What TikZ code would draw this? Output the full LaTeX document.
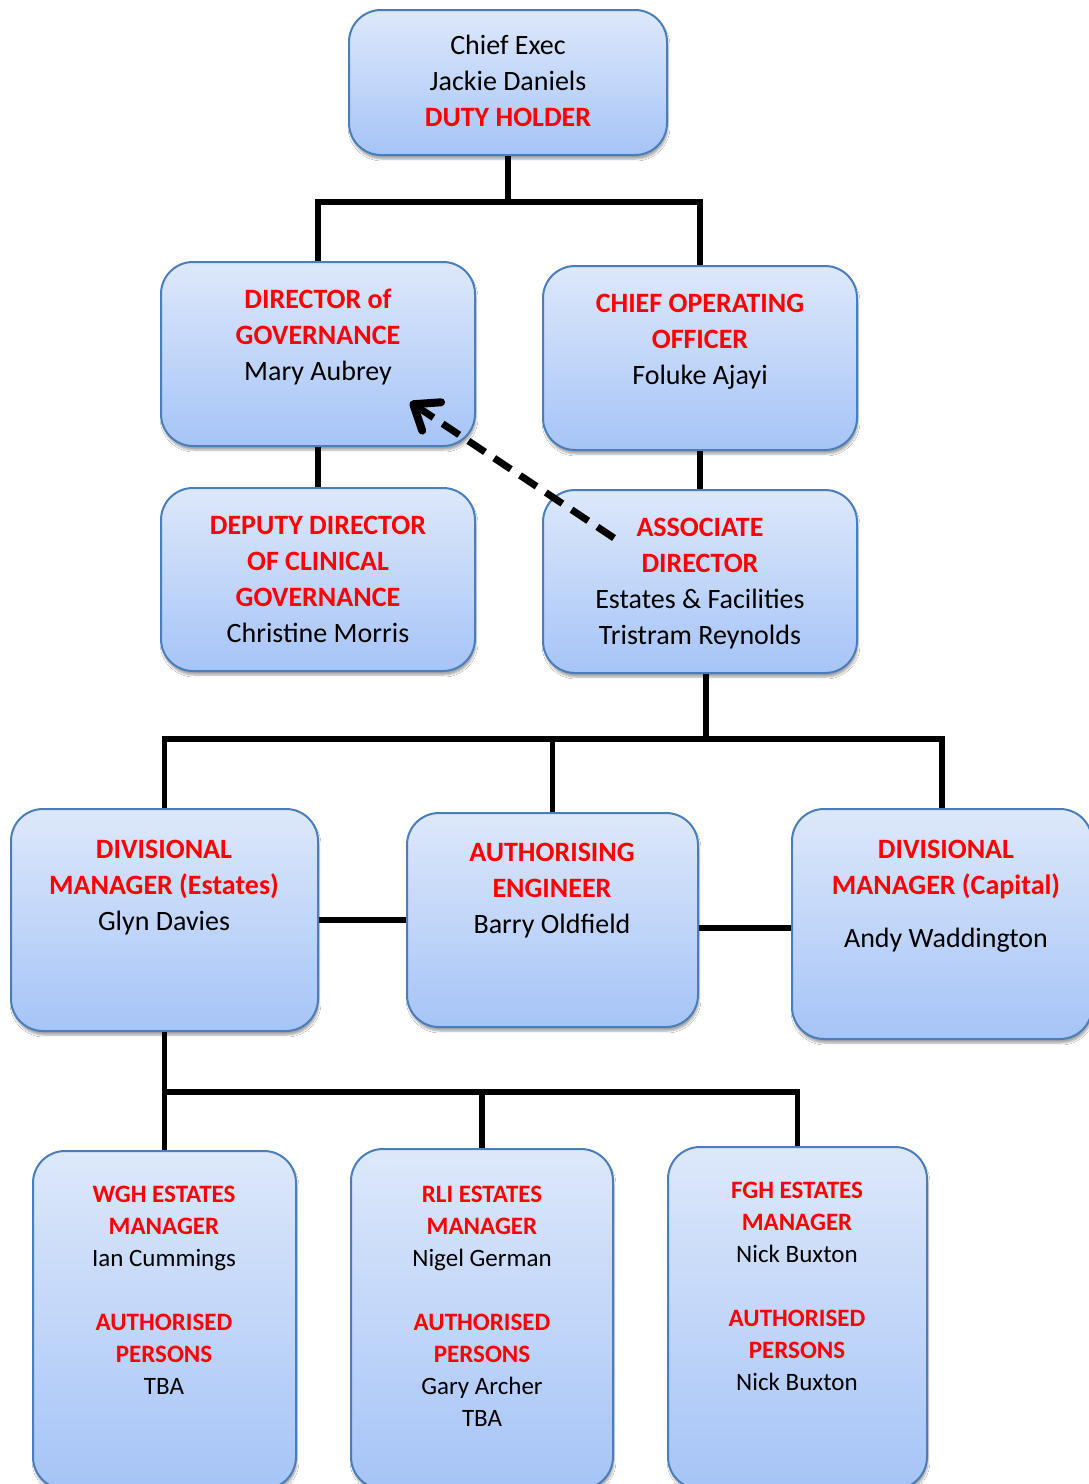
\documentclass[tikz,border=0pt]{standalone}
\usepackage{fontspec}
\setmainfont{Carlito}
\usetikzlibrary{arrows.meta,shadows.blur}
\definecolor{bd}{HTML}{4A7EBB}
\definecolor{gt}{HTML}{DDE8FA}
\definecolor{gb}{HTML}{A6C4F7}
\definecolor{rd}{HTML}{FF0000}
\newcommand{\rb}[1]{{\bfseries\color{rd}#1}}
\begin{document}
\begin{tikzpicture}[x=1pt,y=-1pt,
 box/.style={draw=bd, line width=2pt, rounded corners=32pt, top color=gt, bottom color=gb,
   blur shadow={shadow xshift=1pt, shadow yshift=-4pt, shadow opacity=35, shadow blur steps=6},
   inner sep=0pt},
 big/.style={font=\fontsize{28}{36}\selectfont, align=center, anchor=base, inner sep=0pt},
 small/.style={font=\fontsize{25}{32}\selectfont, align=center, anchor=base, inner sep=0pt},
 link/.style={line width=5.5pt, line join=miter}]
\useasboundingbox (0,0) rectangle (1089,1484);
\clip (0,0) rectangle (1089,1484);
\fill[white] (0,0) rectangle (1089,1484);

% boxes
\node[box, minimum width=318pt, minimum height=145pt] (ce) at (508,82.5) {};
\node[box, minimum width=314pt, minimum height=184pt] (dir) at (318,354) {};
\node[box, minimum width=314pt, minimum height=184pt] (coo) at (700,358) {};
\node[box, minimum width=314pt, minimum height=183pt] (dep) at (318,579.5) {};
\node[box, minimum width=314pt, minimum height=183pt] (ac) at (700,581.5) {};
\node[box, minimum width=307pt, minimum height=222pt] (dme) at (164.5,920) {};
\node[box, minimum width=291pt, minimum height=214pt] (ae) at (552.5,920) {};
\node[box, minimum width=300pt, minimum height=230pt] (dmc) at (942,924) {};
\node[box, minimum width=263pt, minimum height=338pt] (wgh) at (164.5,1320) {};
\node[box, minimum width=262pt, minimum height=340pt] (rli) at (482,1319) {};
\node[box, minimum width=259pt, minimum height=342pt] (fgh) at (797.5,1318) {};

% connectors
\coordinate (j1) at (509,202);
\draw[link] (ce.south) -- (ce.south |- j1);
\draw[link] (dir.north) -- (dir.north |- j1) -- (coo.north |- j1) -- (coo.north);
\draw[link] (dir.south) -- (dep.north);
\draw[link] (coo.south) -- (ac.north);
\coordinate (j2) at (706,739);
\draw[link] (ac.south -| j2) -- (j2);
\draw[link] (dme.north) -- (dme.north |- j2) -- (dmc.north |- j2) -- (dmc.north);
\draw[link] (ae.north) -- (ae.north |- j2);
\draw[link] (dme.east) -- (ae.west);
\coordinate (j3) at (745,928);
\draw[link] (ae.east |- j3) -- (dmc.west |- j3);
\coordinate (j4) at (164,1092);
\draw[link] (dme.south) -- (dme.south |- j4);
\draw[link] (wgh.north) -- (wgh.north |- j4) -- (fgh.north |- j4) -- (fgh.north);
\draw[link] (rli.north) -- (rli.north |- j4);

% texts (anchor = baseline of last line)
\node[big] (ce-t) at (508,126) {Chief Exec\\Jackie Daniels\\\rb{DUTY HOLDER}};
\node[big] (dir-t) at (318,380) {\rb{DIRECTOR of}\\\rb{GOVERNANCE}\\Mary Aubrey};
\node[big] (coo-t) at (700,384) {\rb{CHIEF OPERATING}\\\rb{OFFICER}\\Foluke Ajayi};
\node[big] (dep-t) at (318,642) {\rb{DEPUTY DIRECTOR}\\\rb{OF CLINICAL}\\\rb{GOVERNANCE}\\Christine Morris};
\node[big] (ac-t) at (700,644) {\rb{ASSOCIATE}\\\rb{DIRECTOR}\\Estates \& Facilities\\Tristram Reynolds};
\node[big] (dme-t) at (164,930) {\rb{DIVISIONAL}\\\rb{MANAGER (Estates)}\\Glyn Davies};
\node[big] (ae-t) at (552,933) {\rb{AUTHORISING}\\\rb{ENGINEER}\\Barry Oldfield};
\node[big] (dmc-t) at (946,947) {\rb{DIVISIONAL}\\\rb{MANAGER (Capital)}\\[17pt]Andy Waddington};
\node[small] (wgh-t) at (164,1394) {\rb{WGH ESTATES}\\\rb{MANAGER}\\Ian Cummings\\[32pt]\rb{AUTHORISED}\\\rb{PERSONS}\\TBA};
\node[small] (rli-t) at (482,1426) {\rb{RLI ESTATES}\\\rb{MANAGER}\\Nigel German\\[32pt]\rb{AUTHORISED}\\\rb{PERSONS}\\Gary Archer\\TBA};
\node[small] (fgh-t) at (797,1390) {\rb{FGH ESTATES}\\\rb{MANAGER}\\Nick Buxton\\[32pt]\rb{AUTHORISED}\\\rb{PERSONS}\\Nick Buxton};

% dashed arrow
\coordinate (da) at (614,538);
\coordinate (dd) at (410,402);
\draw[line width=7pt, dash pattern=on 20pt off 11pt,
  -{Straight Barb[length=22pt, width=34pt, line width=8pt, round]}] (da) -- (dd);
\end{tikzpicture}
\end{document}
